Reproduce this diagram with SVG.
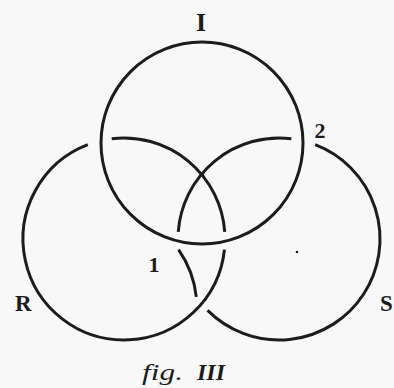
<svg xmlns="http://www.w3.org/2000/svg" width="394" height="388" viewBox="0 0 394 388">
  <style>
    .ring { fill: none; stroke: #1c1c1c; stroke-width: 3; stroke-linecap: butt; }
    .lbl { font-family: "Liberation Serif", "Times New Roman", serif; font-weight: bold; fill: #1c1c1c; }
    .cap { font-family: "Liberation Serif", "Times New Roman", serif; font-style: italic; fill: #1c1c1c; }
  </style>
  <rect x="0" y="0" width="394" height="388" fill="#f8f8f8"/>

  <g id="ring-I">
    <circle class="ring" cx="202" cy="143" r="101"/>
    <text class="lbl" x="201" y="31" font-size="26" text-anchor="middle">I</text>
  </g>

  <g id="ring-R">
    <path class="ring" d="M111.69,138.75 A101,101 0 0 1 224.75,231.95"/>
    <path class="ring" d="M224.45,249.56 A101,101 0 1 1 87.80,144.71"/>
    <text class="lbl" x="15" y="311" font-size="23">R</text>
  </g>

  <g id="ring-S">
    <path class="ring" d="M315.20,144.71 A101,101 0 1 1 207.58,310.42"/>
    <path class="ring" d="M196.27,296.93 A101,101 0 0 0 178.55,249.56"/>
    <path class="ring" d="M178.25,231.95 A101,101 0 0 1 291.31,138.75"/>
    <text class="lbl" x="380" y="311" font-size="23">S</text>
  </g>

  <g id="marks">
    <text class="lbl" x="154" y="272" font-size="22" text-anchor="middle">1</text>
    <text class="lbl" x="320" y="138" font-size="22" text-anchor="middle">2</text>
    <circle cx="297" cy="252" r="1.3" fill="#1c1c1c"/>
  </g>

  <g id="caption">
    <text class="cap" x="142" y="380" font-size="23" textLength="41" lengthAdjust="spacingAndGlyphs">fig.</text>
    <text class="cap" x="197" y="380" font-size="23" font-weight="bold" textLength="28" lengthAdjust="spacingAndGlyphs">III</text>
  </g>
</svg>
